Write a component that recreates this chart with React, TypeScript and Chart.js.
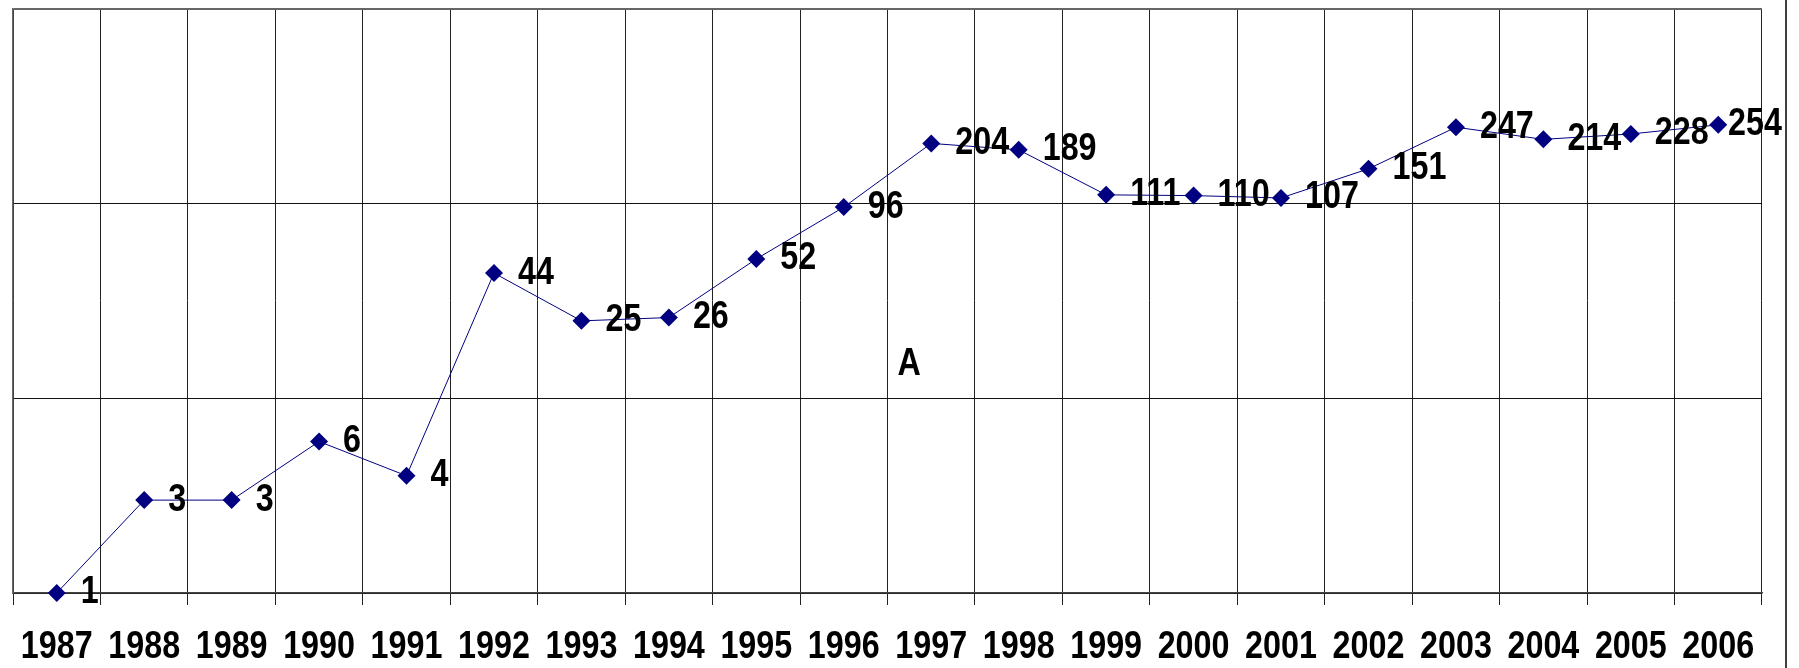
import React, { useEffect, useRef } from "react";
import { Chart, registerables } from "chart.js";

Chart.register(...registerables);

const years: string[] = [
  "1987", "1988", "1989", "1990", "1991", "1992", "1993", "1994", "1995", "1996",
  "1997", "1998", "1999", "2000", "2001", "2002", "2003", "2004", "2005", "2006",
];
const counts: number[] = [1, 3, 3, 6, 4, 44, 25, 26, 52, 96, 204, 189, 111, 110, 107, 151, 247, 214, 228, 254];
const yGridValues: number[] = [1, 10, 100, 1000];
const annotationText = "A";

const FONT = 'bold 38px "Liberation Sans", Arial, sans-serif';
const NARROW = 0.85;
const LINE_COLOR = "#000080";

function drawNarrow(ctx: CanvasRenderingContext2D, text: string, x: number, y: number, align: CanvasTextAlign) {
  ctx.save();
  ctx.translate(x, y);
  ctx.scale(NARROW, 1);
  ctx.textAlign = align;
  ctx.fillText(text, 0, 0);
  ctx.restore();
}

export default function App() {
  const canvasRef = useRef<HTMLCanvasElement | null>(null);

  useEffect(() => {
    const canvas = canvasRef.current;
    if (!canvas) return;

    const extras = {
      id: "extras",
      afterDatasetsDraw(chart: any) {
        const ctx: CanvasRenderingContext2D = chart.ctx;
        const meta = chart.getDatasetMeta(0);
        const xs = chart.scales.x;
        const area = chart.chartArea;
        const frameRight = chart.width - 13;
        ctx.save();
        ctx.font = FONT;
        ctx.fillStyle = "#000";
        ctx.textBaseline = "middle";
        // data labels
        meta.data.forEach((pt: any, i: number) => {
          const txt = String(counts[i]);
          const w = ctx.measureText(txt).width * NARROW;
          const x = Math.min(pt.x + 24, frameRight - 4 - w);
          drawNarrow(ctx, txt, x, pt.y, "left");
        });
        // category labels
        years.forEach((yr, i) => {
          drawNarrow(ctx, yr, xs.getPixelForValue(i), xs.bottom - 20, "center");
        });
        // stray annotation label
        const ax = xs.getPixelForValue(10) - 22;
        const ay = area.top + (area.bottom - area.top) * 0.608;
        drawNarrow(ctx, annotationText, ax, ay, "center");
        // outer right border
        ctx.strokeStyle = "#000";
        ctx.lineWidth = 1.5;
        ctx.beginPath();
        ctx.moveTo(frameRight, 0);
        ctx.lineTo(frameRight, chart.height);
        ctx.stroke();
        ctx.restore();
      },
    };

    const chart = new Chart(canvas, {
      type: "line",
      data: {
        labels: years,
        datasets: [
          {
            data: counts,
            borderColor: LINE_COLOR,
            backgroundColor: LINE_COLOR,
            borderWidth: 1,
            pointStyle: "rectRot",
            pointRadius: 9,
            pointBorderWidth: 0,
            pointBackgroundColor: LINE_COLOR,
            tension: 0,
            clip: false as any,
          },
        ],
      },
      options: {
        responsive: false,
        animation: false,
        layout: { padding: { left: 13, top: 7, right: 37, bottom: 0 } },
        plugins: {
          legend: { display: false },
          tooltip: { enabled: false },
          title: { display: false },
        },
        scales: {
          x: {
            type: "category",
            offset: true,
            afterFit: (s: any) => {
              s.height = 75;
            },
            grid: {
              offset: true,
              color: "#222",
              lineWidth: 1,
              drawTicks: true,
              tickLength: 12,
            },
            border: { display: true, color: "#444", width: 1.5 },
            ticks: { display: false },
          },
          y: {
            type: "logarithmic",
            min: 1,
            max: 1000,
            afterFit: (s: any) => {
              s.width = 0;
            },
            afterBuildTicks: (s: any) => {
              s.ticks = yGridValues.map((v) => ({ value: v, major: true }));
            },
            grid: {
              color: (c: any) => (c.tick && c.tick.value === 1000 ? "#666" : "#111"),
              lineWidth: (c: any) => (c.tick && c.tick.value === 1000 ? 2 : 1),
              drawTicks: false,
            },
            border: { display: true, color: "#666", width: 1.5 },
            ticks: { display: false },
          },
        },
      },
      plugins: [extras],
    });

    return () => chart.destroy();
  }, []);

  return (
    <div style={{ position: "fixed", left: 0, top: 0, width: 1799, height: 668, background: "#fff" }}>
      <canvas ref={canvasRef} width={1799} height={668} style={{ display: "block" }} />
    </div>
  );
}
